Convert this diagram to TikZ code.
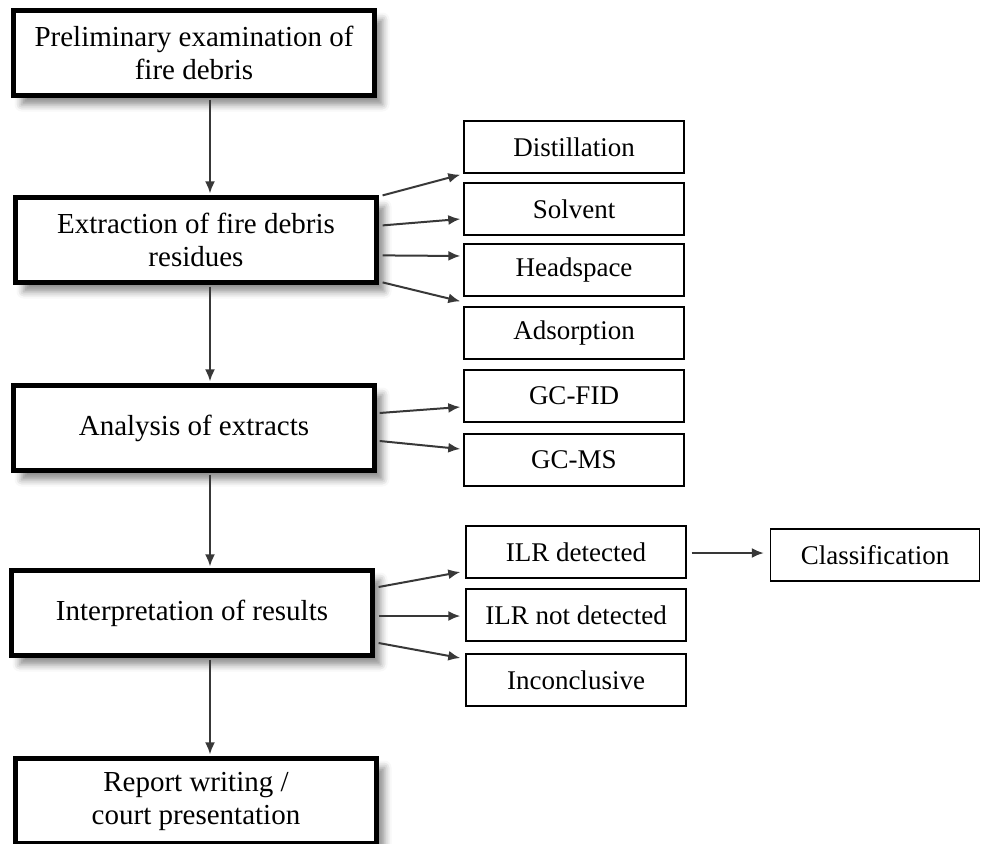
\documentclass[tikz,border=0pt]{standalone}
\usepackage{fontspec}
\setmainfont{Liberation Serif}
\usepackage{xcolor}
\usepackage{tikz}
\usetikzlibrary{arrows.meta,calc,shadows.blur}

\begin{document}
\begin{tikzpicture}[x=1pt,y=-1pt,
		mainbox/.style={draw,line width=4.2pt,fill=white,minimum width=361pt,minimum height=85pt,align=center,
			font=\fontsize{29pt}{33pt}\selectfont,
			blur shadow={shadow xshift=8pt,shadow yshift=-9pt,shadow blur radius=7pt,shadow opacity=45}},
		subbox/.style={draw,line width=1.4pt,fill=white,minimum width=220pt,minimum height=52pt},
		arr/.style={-{Latex[length=12pt,width=10pt]},line width=2pt,black!78},
		font=\fontsize{27pt}{32pt}\selectfont]
			\useasboundingbox (0,0) rectangle (982,843);
			% Cột chính
			\node[mainbox] (prel) at (194,53) {Preliminary examination of\\fire debris};
			\node[mainbox] (extr) at (196,240) {Extraction of fire debris\\residues};
			\node[mainbox] (anal) at (194,428) {Analysis of extracts};
			\node[mainbox] (intp) at (192,613) {Interpretation of results};
			\node[mainbox] (repo) at (196,801) {Report writing /\\court presentation};
			% Hộp phụ
			\node[subbox] (dist) at (574,147) {Distillation};
			\node[subbox] (solv) at (574,209) {Solvent};
			\node[subbox] (head) at (574,270) {Headspace};
			\node[subbox] (adso) at (574,333) {Adsorption};
			\node[subbox] (gcfid) at (574,396) {GC-FID};
			\node[subbox] (gcms) at (574,460) {GC-MS};
			\node[subbox] (ilrd) at (576,552) {ILR detected};
			\node[subbox] (ilrn) at (576,615) {ILR not detected};
			\node[subbox] (inco) at (576,680) {Inconclusive};
			\node[subbox,minimum width=209pt] (clas) at (875,555) {Classification};
			% Mũi tên dọc
			\draw[arr] ($(prel.south)+(16,2)$) -- ($(extr.north)+(14,-2)$);
			\draw[arr] ($(extr.south)+(14,2)$) -- ($(anal.north)+(16,-2)$);
			\draw[arr] ($(anal.south)+(16,2)$) -- ($(intp.north)+(18,-2)$);
			\draw[arr] ($(intp.south)+(18,2)$) -- ($(repo.north)+(14,-2)$);
			% Mũi tên ngang
			\draw[arr] ($(extr.north east)+(4,0)$) -- ($(dist.south west)+(-3,1)$);
			\draw[arr] ($(extr.north east)+(4,30)$) -- ($(solv.west)+(-3,10)$);
			\draw[arr] ($(extr.north east)+(4,60)$) -- ($(head.west)+(-3,-14)$);
			\draw[arr] ($(extr.north east)+(4,87)$) -- ($(adso.north west)+(-3,-5)$);
			\draw[arr] ($(anal.east)+(3,-15)$) -- ($(gcfid.west)+(-3,11)$);
			\draw[arr] ($(anal.east)+(3,13)$) -- ($(gcms.west)+(-3,-11)$);
			\draw[arr] ($(intp.east)+(4,-26)$) -- ($(ilrd.west)+(-5,20)$);
			\draw[arr] ($(intp.east)+(4,3)$) -- ($(ilrn.west)+(-5,1)$);
			\draw[arr] ($(intp.east)+(4,30)$) -- ($(inco.west)+(-5,-22)$);
			\draw[arr] ($(ilrd.east)+(5,1)$) -- ($(clas.west)+(-6,-2)$);
		\end{tikzpicture}
\end{document}
